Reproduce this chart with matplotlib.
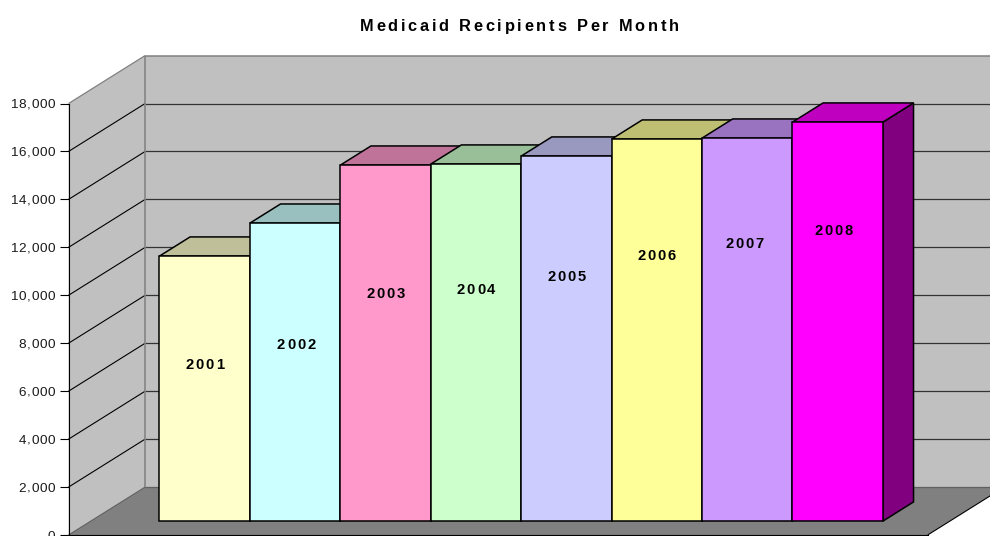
import matplotlib
matplotlib.use("Agg")
import matplotlib.pyplot as plt
from matplotlib import font_manager
from matplotlib.ft2font import LoadFlags
from matplotlib.patches import Polygon
from matplotlib.text import Text
from matplotlib.transforms import IdentityTransform

# chart data
years = ["2001", "2002", "2003", "2004", "2005", "2006", "2007", "2008"]
recipients = [11055, 12430, 14850, 14893, 15227, 15936, 15977, 16645]
label_levels = [6550, 7380, 9510, 9680, 10220, 11130, 11630, 12170]
label_shift = [0.0, 0.01, 0.0, 0.0, 0.0, 0.0, -0.03, -0.045]
y_ticks = [0, 2000, 4000, 6000, 8000, 10000, 12000, 14000, 16000, 18000]
front_colors = ["#FFFFCC", "#CCFFFF", "#FF99CC", "#CCFFCC", "#CCCCFF", "#FFFF99", "#CC99FF", "#FF00FF"]
top_colors = ["#BFBF99", "#99BFBF", "#BF7399", "#99BF99", "#9999BF", "#BFBF73", "#9973BF", "#BF00BF"]
side_colors = ["#808066", "#668080", "#804D66", "#668066", "#666680", "#80804D", "#664D80", "#800080"]

# layout in pixels
W, H = 990, 536
SLOT_PX = 90.43
ORIGIN_X = 137.3
ORIGIN_Y = 535
PX_PER_UNIT = 431.5 / 18000

# depth of the 3d box, in data units
DEPTH_X = 76.5 / SLOT_PX
DEPTH_Y = 47.9 / PX_PER_UNIT
LEFT = -0.76
RIGHT = 8.74
BAR_FRONT = 0.29
BAR_BACK = 0.69


def proj(x, v, d):
    return (x + d * DEPTH_X, v + d * DEPTH_Y)


class SpacedText(Text):
    """Text with letter spacing, y is the vertical centre of the digits/caps"""

    def __init__(self, *args, tracking=0, **kwargs):
        super().__init__(*args, **kwargs)
        self.tracking = tracking

    def draw(self, renderer):
        s = self.get_text()
        fp = self.get_fontproperties()
        size_px = fp.get_size_in_points() * self.figure.dpi / 72
        font = font_manager.get_font(font_manager.findfont(fp))
        font.set_size(fp.get_size_in_points(), self.figure.dpi)
        adv = [font.load_char(ord(c), flags=LoadFlags.NO_HINTING).linearHoriAdvance / 65536 for c in s]
        total = sum(adv) + self.tracking * (len(s) - 1)
        x, y = self.get_transform().transform(self.get_position())
        if self.get_ha() == "center":
            x -= total / 2
        elif self.get_ha() == "right":
            x -= total
        y -= 0.358 * size_px
        for c, a in zip(s, adv):
            t = Text(x, y, c, transform=IdentityTransform(), fontproperties=fp,
                     color=self.get_color(), ha="left", va="baseline")
            t.set_figure(self.figure)
            t.draw(renderer)
            x += a + self.tracking


fig = plt.figure(figsize=(W / 100, H / 100), dpi=100)
ax = fig.add_axes([0, 0, 1, 1])
ax.set_xlim(-ORIGIN_X / SLOT_PX, (W - ORIGIN_X) / SLOT_PX)
ax.set_ylim((ORIGIN_Y - H) / PX_PER_UNIT, ORIGIN_Y / PX_PER_UNIT)
ax.patch.set_alpha(0)

top = y_ticks[-1]
# walls and floor
ax.add_patch(Polygon([proj(LEFT, 0, 0), proj(LEFT, top, 0), proj(LEFT, top, 1), proj(LEFT, 0, 1)],
                     fc="#C0C0C0", ec="none", zorder=1))
ax.add_patch(Polygon([proj(LEFT, 0, 1), proj(LEFT, top, 1), proj(RIGHT, top, 1), proj(RIGHT, 0, 1)],
                     fc="#C0C0C0", ec="none", zorder=1))
ax.add_patch(Polygon([proj(LEFT, 0, 0), proj(RIGHT, 0, 0), proj(RIGHT, 0, 1), proj(LEFT, 0, 1)],
                     fc="#808080", ec="none", zorder=1))


def edge(a, b, color, lw=1.0, z=2):
    ax.plot([a[0], b[0]], [a[1], b[1]], color=color, lw=lw, zorder=z, solid_capstyle="butt", clip_on=True)


# gridlines
for v in y_ticks[1:-1]:
    edge(proj(LEFT, v, 0), proj(LEFT, v, 1), "#000000", 0.8)
    edge(proj(LEFT, v, 1), proj(RIGHT, v, 1), "#333333", 0.9)
edge(proj(LEFT, top, 0), proj(LEFT, top, 1), "#808080", 0.9)
edge(proj(LEFT, top, 1), proj(RIGHT, top, 1), "#808080", 1.1)
edge(proj(LEFT, 0, 1), proj(LEFT, top, 1), "#808080", 1.1)
edge(proj(LEFT, 0, 0), proj(LEFT, 0, 1), "#606060", 0.8)
edge(proj(LEFT, 0, 1), proj(RIGHT, 0, 1), "#606060", 0.9)
edge(proj(RIGHT, 0, 0), proj(RIGHT, 0, 1), "#000000", 0.8)

# bars, left to right so that the next bar hides the side of this one
for i, v in enumerate(recipients):
    x0, x1 = i, i + 1
    kw = dict(ec="#000000", lw=1.1, joinstyle="miter")
    ax.add_patch(Polygon([proj(x1, 0, BAR_FRONT), proj(x1, v, BAR_FRONT), proj(x1, v, BAR_BACK), proj(x1, 0, BAR_BACK)],
                         fc=side_colors[i], zorder=3 + i, **kw))
    ax.add_patch(Polygon([proj(x0, v, BAR_FRONT), proj(x1, v, BAR_FRONT), proj(x1, v, BAR_BACK), proj(x0, v, BAR_BACK)],
                         fc=top_colors[i], zorder=3 + i, **kw))
    ax.add_patch(Polygon([proj(x0, 0, BAR_FRONT), proj(x1, 0, BAR_FRONT), proj(x1, v, BAR_FRONT), proj(x0, v, BAR_FRONT)],
                         fc=front_colors[i], zorder=3 + i, **kw))
    lx, ly = proj(i + 0.5 + label_shift[i], label_levels[i], BAR_FRONT)
    ax.add_artist(SpacedText(lx, ly, years[i], tracking=1.9, ha="center", color="#000000",
                             fontfamily="Liberation Sans", fontweight="bold", fontsize=10.6, zorder=20))

# the value axis
for name in ["top", "right"]:
    ax.spines[name].set_visible(False)
ax.spines["left"].set_position(("data", LEFT))
ax.spines["left"].set_bounds(0, top)
ax.spines["bottom"].set_position(("data", 0))
ax.spines["bottom"].set_bounds(LEFT, RIGHT)
ax.set_xticks([])
ax.set_yticks(y_ticks)
ax.tick_params(axis="y", length=6.8, width=0.8, labelleft=False, left=True)
for v in y_ticks:
    ax.add_artist(SpacedText(LEFT - 0.15, v, f"{v:,}", tracking=0.7, ha="right", color="#1a1a1a",
                             fontfamily="Liberation Sans", fontsize=9.7, clip_on=False))

ax.add_artist(SpacedText(519 / W, 1 - 25 / H, "Medicaid Recipients Per Month", tracking=2.75, ha="center",
                         transform=ax.transAxes, color="#000000", fontfamily="Liberation Sans",
                         fontweight="bold", fontsize=11.8))

fig.savefig("out.png", dpi=100)
